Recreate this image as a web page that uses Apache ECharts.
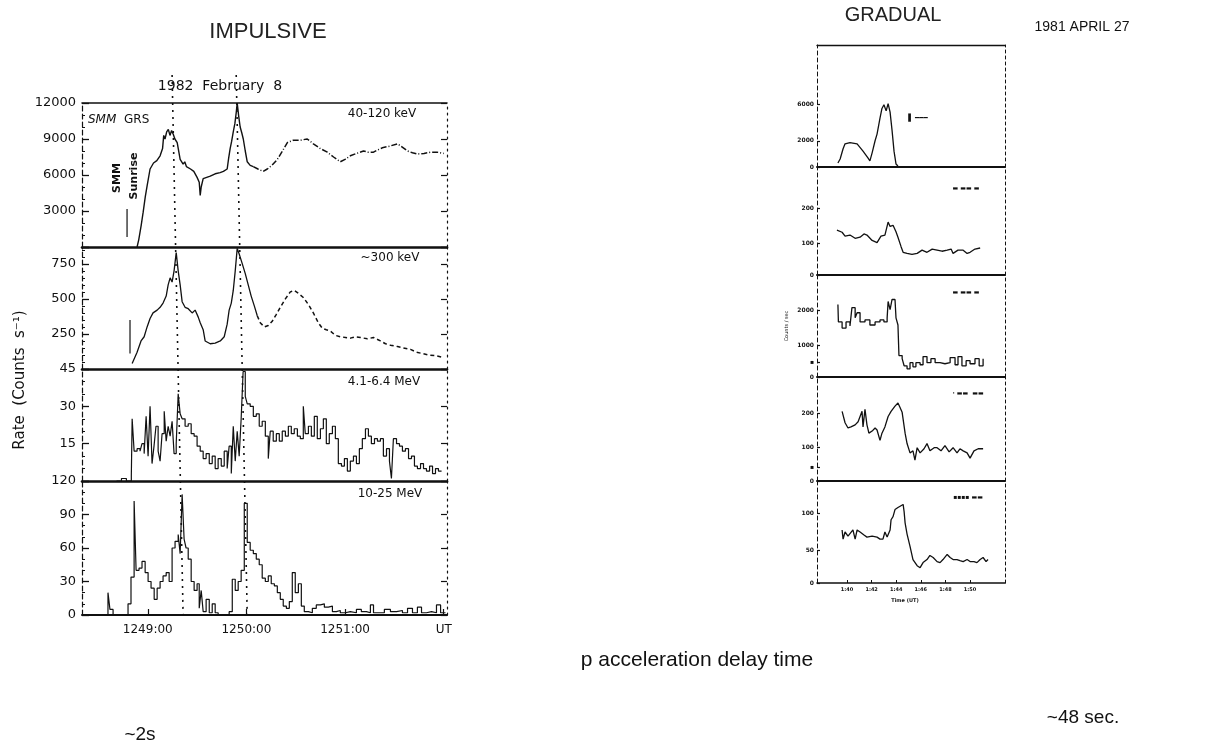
<!DOCTYPE html>
<html><head><meta charset="utf-8">
<script src="https://cdn.jsdelivr.net/npm/echarts/dist/echarts.min.js"></script>
<style>html,body{margin:0;padding:0;background:#fff}#c{width:1226px;height:748px}</style>
</head><body><div id="c"></div>
<script>
// ---------- IMPULSIVE (1982 February 8) : time in seconds after 12:48:00 UT ----------
const X_TICKS = [60, 120, 180, 240];
const X_TICK_LABELS = ['1249:00', '1250:00', '1251:00', 'UT'];

// 40-120 keV (counts/s) – solid part, then dash-dot part
const P1_SOLID = [[53.5,0],[54.5,600],[56,1800],[57.2,2900],[58.5,4200],[59.6,5100],[61.4,6500],[63.5,7000],[65.5,7200],[67.5,7600],[69,8200],[69.7,9300],[70.5,9000],[71.5,9600],[72.5,9800],[73.5,9300],[74.5,9700],[75.5,9400],[76.5,9000],[77.9,8700],[79.7,7300],[81.5,6900],[82.5,7100],[83.5,6700],[84.5,6800],[86,6500],[88,6300],[90,5800],[91.3,5400],[91.9,4300],[92.5,5000],[93.7,5700],[94.9,5800],[98,5900],[101,6100],[104,6200],[106,6300],[108.3,6500],[109.2,7400],[110.1,8200],[111,8800],[112,9600],[113,10300],[113.8,11200],[114.4,12000],[115.3,10900],[116.2,10000],[117.2,9500],[118.1,9000],[119.3,8000],[120.5,7100],[122.3,6800],[124.2,6700]];
const P1_DASHED = [[124.2,6700],[127,6500],[130.2,6300],[132.7,6500],[135.5,6800],[138.8,7300],[141.5,7900],[144.9,8700],[148.5,8900],[152.8,8900],[157,9000],[160.7,8600],[165,8200],[169.2,7900],[173,7500],[177.1,7100],[180,7300],[183.2,7600],[187,7800],[191.2,8000],[194,7900],[197.3,7900],[200,8100],[203.3,8300],[207,8400],[211.9,8600],[215,8300],[218,8000],[221,7850],[224,7750],[228,7800],[232,7900],[236,7900],[240,7800]];

// ~300 keV
const P2_SOLID = [[50.5,40],[53.5,120],[55.9,200],[57.8,230],[59.6,300],[61.4,360],[63.2,400],[65.7,420],[67.5,440],[69.3,470],[71.2,520],[72.4,600],[73.6,650],[74.8,620],[76,700],[77.3,830],[78.5,700],[79.7,600],[80.9,480],[82.7,440],[84.6,430],[87,400],[88.8,420],[90.7,370],[91.9,330],[93.7,280],[94.9,200],[98,180],[101,185],[104.1,200],[106.5,230],[108.3,320],[109.5,420],[110.8,470],[112,560],[113.2,700],[114.4,860],[115.6,820],[117.5,750],[119.3,680],[121.1,600],[122.9,520],[124.8,450],[126.6,380]];
const P2_DOTTED = [[126.6,380],[128.4,330],[130.9,300],[133.3,310],[135.7,340],[138.2,390],[140.6,440],[143.7,500],[146.7,550],[149.1,560],[151.6,540],[154.6,510],[157.7,460],[160.7,400],[163.7,330],[166.2,290],[168.6,280],[171.1,270],[174.1,240],[177.1,230],[180.2,225],[183.2,220],[186.3,230],[189.3,225],[193.6,215],[197.3,225],[201.5,200],[204.6,180],[207.6,170],[211.9,160],[215.5,150],[219.8,140],[223.4,120],[227.1,110],[230.7,100],[235,95],[238.7,85]];

// 4.1-6.4 MeV
const P3 = [[41,0],[44,1],[47,0],[50,2],[50.5,25],[51.7,12],[53.5,13],[55.3,12],[56.5,15],[57.8,11],[59,26],[60.2,10],[61.4,30],[62.6,7],[63.8,14],[65,22],[66.3,12],[67.5,8],[68.7,19],[70,28],[71.2,16],[72.4,22],[73.6,18],[74.8,24],[76,11],[77.3,15],[78.5,35],[79.7,27],[80.9,25],[82.7,22],[84.6,23],[86.4,19],[88.2,18],[90,14],[91.9,12],[93.7,9],[95.5,11],[97.4,7],[99.2,10],[101,5],[102.8,9],[104.7,6],[106.5,12],[108.3,5],[109.5,14],[110.8,3],[112,22],[113.2,8],[114.4,20],[115.6,10],[116.8,25],[118,44],[119.3,34],[120.5,31],[122.3,30],[124.2,26],[126,27],[127.8,22],[129.6,24],[131.5,18],[133.3,9],[134.5,20],[136.3,16],[138.2,19],[140,16],[141.8,20],[143.7,18],[145.5,22],[147.3,19],[149.1,21],[151,18],[152.8,17],[154.6,30],[155.8,19],[157.7,22],[159.5,18],[161.3,26],[163.1,17],[165,21],[166.8,25],[168.6,15],[170.4,19],[172.3,22],[174.1,17],[175.9,7],[177.8,6],[179.6,9],[181.4,4],[183.2,8],[185.1,10],[186.9,7],[188.7,13],[190.5,17],[192.4,21],[194.2,18],[196,15],[197.9,17],[199.7,16],[201.5,17],[203.3,10],[205.2,13],[207,8],[208.2,1],[209.4,17],[211.3,15],[213.1,14],[214.9,12],[216.7,13],[218.6,9],[220.4,10],[222.2,6],[224,5],[225.9,7],[227.7,5],[229.5,4],[231.4,6],[233.2,3],[235,5],[236.8,4],[238.7,4]];

// 10-25 MeV
const P4 = [[23.7,0],[34,0],[35.8,20],[37,5],[38.9,0],[46.2,0],[48,10],[49.8,34],[51.7,102],[52.9,40],[54.7,42],[56.5,48],[58.4,38],[60.2,30],[62,24],[63.9,14],[65.7,24],[67.5,30],[69.3,35],[71.2,38],[73,30],[74.8,60],[76.6,66],[78.5,72],[79.7,55],[80.9,108],[82.1,68],[83.3,60],[84.6,50],[86.4,30],[88.2,22],[90,28],[91.3,6],[92.5,22],[93.7,3],[95.5,14],[97.4,2],[99.2,10],[101,2],[102.8,0],[105.3,0],[107.7,0],[109.5,3],[111.4,32],[113.2,22],[115,30],[116.8,40],[118.7,100],[120.5,65],[122.3,58],[124.2,55],[126,50],[127.8,45],[129.6,33],[131.5,30],[133.3,35],[135.1,28],[137,26],[138.8,20],[140.6,14],[142.4,8],[144.3,6],[146.1,12],[147.9,38],[149.7,20],[151.6,28],[153.4,8],[155.2,3],[157.7,2],[160.1,6],[162.5,9],[165,10],[167.4,7],[169.8,8],[172.3,3],[174.7,4],[177.1,2],[180.2,3],[183.2,2],[186.9,5],[189.9,3],[193,2],[195.4,9],[197.3,2],[200.3,2],[203.9,5],[207.6,3],[211.3,4],[214.9,2],[218,6],[221,2],[224,7],[226.5,2],[229.5,3],[232.6,2],[235.6,9],[238.1,2],[241.1,2]];

// "SMM sunrise" markers
const SUNRISE_P1 = [[47.4,830],[47.4,3170]];
const SUNRISE_P2 = [[49.2,110],[49.2,350]];
// dotted delay lines (time at top of figure, time at bottom)
const DELAY_A = [[74.8,1],[81.5,0]];
const DELAY_B = [[113.8,1],[120.5,0]];

// ---------- GRADUAL (1981 April 27) : relative units, x in ticks ----------
const R_X_TICKS = [0,1,2,3,4,5];
const R_X_LABELS = ['1:40','1:42','1:44','1:46','1:48','1:50'];
const R_Y_TICKS = [[0,21.5,51.2],[0,29.6,62],[0,14.7,31.4,65.7],[0,13.5,32.7,65.4],[0,32.4,68.6]];
const R_Y_LABELS = [['0','2000','6000'],['0','100','200'],['0','\u25aa','1000','2000'],['0','\u25aa','100','200'],['0','50','100']];
const R1 = [[-0.37,3.3],[-0.28,6.6],[-0.16,15],[-0.08,19],[0.12,20],[0.41,19],[0.65,13],[0.85,7.4],[0.93,5],[1.02,11.6],[1.14,21.5],[1.22,27],[1.34,40],[1.42,48],[1.50,51],[1.59,46],[1.67,52],[1.75,45],[1.83,30],[1.91,13],[1.99,2.5],[2.07,0.8]];
const R2 = [[-0.41,41.5],[-0.20,39.6],[-0.08,36],[0.12,37],[0.33,34],[0.53,35],[0.69,38],[0.81,37],[1.02,32],[1.22,30],[1.38,36],[1.54,37],[1.67,49],[1.75,45],[1.87,46],[1.99,40],[2.07,35],[2.20,26],[2.28,21],[2.44,20],[2.64,19],[2.85,20],[3.05,23],[3.25,21],[3.46,24],[3.66,23],[3.86,22],[4.07,23],[4.23,24],[4.31,20],[4.51,23],[4.72,23],[4.88,20],[5.00,21],[5.20,24],[5.41,25]];
const R3 = [[-0.37,71],[-0.35,54],[-0.20,48],[-0.04,54],[0.12,50],[0.20,68],[0.33,58],[0.41,63],[0.53,54],[0.73,56],[0.93,51],[1.14,54],[1.34,56],[1.50,54],[1.63,58],[1.67,74],[1.75,66],[1.83,76],[1.95,76],[1.99,58],[2.07,51],[2.11,21],[2.24,18],[2.32,11],[2.44,8],[2.56,14],[2.68,10],[2.80,14],[2.97,12],[3.09,20],[3.25,14],[3.41,18],[3.58,14],[3.78,13],[3.98,14],[4.19,19],[4.39,12],[4.51,20],[4.67,11],[4.84,16],[5.00,13],[5.20,18],[5.37,11],[5.53,18]];
const R4 = [[-0.20,67],[-0.08,56],[0.04,51],[0.16,52],[0.33,54],[0.45,57],[0.61,67],[0.65,52],[0.73,69],[0.81,54],[0.89,46],[1.02,48],[1.14,51],[1.22,49],[1.34,39],[1.42,46],[1.54,52],[1.67,62],[1.79,67],[1.95,72],[2.07,75],[2.15,71],[2.24,66],[2.36,46],[2.44,36],[2.56,27],[2.68,29],[2.76,20],[2.85,32],[2.97,27],[3.13,31],[3.25,36],[3.37,29],[3.54,32],[3.66,32],[3.82,29],[3.98,34],[4.15,28],[4.31,32],[4.47,27],[4.59,31],[4.72,29],[4.88,27],[5.00,22],[5.16,29],[5.33,31],[5.53,31]];
const R5 = [[-0.20,52],[-0.16,43],[-0.08,50],[0.04,46],[0.12,45],[0.24,52],[0.33,43],[0.41,52],[0.53,50],[0.69,47],[0.81,45],[1.02,46],[1.22,45],[1.34,43],[1.46,43],[1.54,50],[1.63,45],[1.75,52],[1.79,62],[1.87,65],[1.95,72],[2.07,74],[2.15,75],[2.28,77],[2.32,70],[2.36,59],[2.44,48],[2.56,36],[2.68,23],[2.85,17],[2.97,15],[3.09,20],[3.25,23],[3.37,27],[3.50,25],[3.66,21],[3.78,20],[3.90,23],[4.07,28],[4.19,25],[4.31,23],[4.47,23],[4.59,22],[4.72,21],[4.88,23],[5.00,21],[5.16,21],[5.28,20],[5.41,23],[5.53,25],[5.65,21],[5.73,23]];

const INK = '#111';
const FONT = '"DejaVu Sans", sans-serif';
const SANS = '"Liberation Sans", Arial, sans-serif';

const chart = echarts.init(document.getElementById('c'), null, {renderer:'canvas'});

// ---- grids ----
const grids = [
  {left:82, right:779, top:103, height:144},   // L1
  {left:82, right:779, top:247, height:122},   // L2
  {left:82, right:779, top:369, height:112},   // L3
  {left:82, right:779, top:481, height:134},   // L4
  {left:82, right:779, top:75,  height:540},   // overlay
  {left:817, right:221, top:45,  height:122},  // R1
  {left:817, right:221, top:167, height:108},  // R2
  {left:817, right:221, top:275, height:102},  // R3
  {left:817, right:221, top:377, height:104},  // R4
  {left:817, right:221, top:481, height:102}   // R5
];

const xAxis = [], yAxis = [], series = [];
const hidden = {show:false};

// left panels
const Y_CFG = [
  {max:12000, interval:3000, minor:3},
  {max:870, interval:250, minor:5},
  {max:45, interval:15, minor:3},
  {max:120, interval:30, minor:3}
];
for (let i = 0; i < 4; i++) {
  const last = i === 3;
  xAxis.push({
    type:'value', gridIndex:i, min:20, max:242, position:'bottom',
    axisLine:{show:true, onZero:false, lineStyle:{color:INK, width: last ? 2 : 2.6}},
    splitLine:hidden,
    axisTick: last ? {show:true, inside:true, length:6, customValues:X_TICKS, lineStyle:{color:INK, width:1.2}} : hidden,
    axisLabel: last ? {show:true, customValues:X_TICKS, margin:9, color:INK, fontFamily:FONT, fontSize:12,
      formatter:(v)=>X_TICK_LABELS[X_TICKS.indexOf(v)] || ''} : hidden
  });
  const c = Y_CFG[i];
  yAxis.push({
    type:'value', gridIndex:i, min:0, max:c.max, interval:c.interval, position:'left',
    axisLine:{show:true, onZero:false, lineStyle:{color:INK, width:1.2, type:[5,3]}},
    axisTick:{show:true, inside:true, length:7, lineStyle:{color:INK, width:1.3}},
    minorTick:{show:true, splitNumber:c.minor, length:3, lineStyle:{color:INK}},
    splitLine:hidden, minorSplitLine:hidden,
    axisLabel:{show:true, color:INK, fontFamily:FONT, fontSize:13, margin:6,
      showMinLabel: last, showMaxLabel: i !== 1, formatter:(v)=>String(v)},
  });
  yAxis.push({
    type:'value', gridIndex:i, min:0, max:c.max, interval:c.interval, position:'right',
    axisLine:{show:true, onZero:false, lineStyle:{color:INK, width:1.2, type:[2,4]}},
    axisTick:{show:true, inside:true, length:6, lineStyle:{color:INK, width:1.2}},
    splitLine:hidden, axisLabel:hidden
  });
}
// top border of panel 1 (x-axis index 4)
xAxis.push({type:'value', gridIndex:0, min:20, max:242, position:'top',
  axisLine:{show:true, onZero:false, lineStyle:{color:INK, width:1.6}}, axisTick:hidden, axisLabel:hidden, splitLine:hidden});
// overlay (x index 5, y index 8)
xAxis.push({type:'value', gridIndex:4, min:20, max:242, show:false});
yAxis.push({type:'value', gridIndex:4, min:0, max:1, show:false});

// right panels: x indices 6..10, y indices 9..18 (left/right pairs)
for (let k = 0; k < 5; k++) {
  const g = 5 + k, last = k === 4;
  xAxis.push({
    type:'value', gridIndex:g, min:-1.22, max:6.42, position:'bottom',
    axisLine:{show:true, onZero:false, lineStyle:{color:INK, width: last ? 1.6 : 2}},
    splitLine:hidden,
    axisTick: last ? {show:true, inside:true, length:3, customValues:R_X_TICKS, lineStyle:{color:INK}} : hidden,
    axisLabel: last ? {show:true, customValues:R_X_TICKS, margin:4, color:INK, fontFamily:FONT, fontSize:5, fontWeight:'bold',
      formatter:(v)=>R_X_LABELS[R_X_TICKS.indexOf(v)] || ''} : hidden
  });
  yAxis.push({
    type:'value', gridIndex:g, min:0, max:100, position:'left',
    axisLine:{show:true, onZero:false, lineStyle:{color:INK, width:1, type:[4,3]}},
    axisTick:{show:true, inside:true, length:3, customValues:R_Y_TICKS[k], lineStyle:{color:INK, width:1.2}},
    axisLabel:{show:true, customValues:R_Y_TICKS[k], color:INK, fontFamily:FONT, fontSize:6, fontWeight:'bold', margin:3,
      formatter:(v)=>R_Y_LABELS[k][R_Y_TICKS[k].indexOf(v)] || ''},
    splitLine:hidden,
    name: k === 2 ? 'Counts / sec' : '', nameLocation:'middle', nameGap:28, nameRotate:90,
    nameTextStyle:{fontSize:5, color:INK, fontFamily:FONT}
  });
  yAxis.push({
    type:'value', gridIndex:g, min:0, max:100, position:'right',
    axisLine:{show:true, onZero:false, lineStyle:{color:INK, width:1, type:[3,3]}},
    axisTick:hidden, axisLabel:hidden, splitLine:hidden
  });
}
// top border of R1 (x index 11)
xAxis.push({type:'value', gridIndex:5, min:-1.22, max:6.42, position:'top',
  axisLine:{show:true, onZero:false, lineStyle:{color:INK, width:1.3}}, axisTick:hidden, axisLabel:hidden, splitLine:hidden});

function line(xi, yi, data, style, extra) {
  return Object.assign({type:'line', xAxisIndex:xi, yAxisIndex:yi, data:data, symbol:'none',
    animation:false, silent:true, lineStyle:Object.assign({color:INK, width:1.3}, style)}, extra || {});
}
series.push(line(0, 0, P1_SOLID, {width:1.4}));
series.push(line(0, 0, P1_DASHED, {width:1.5, type:[6,2,1,2]}));
series.push(line(0, 0, SUNRISE_P1, {width:1.2}));
series.push(line(1, 2, P2_SOLID, {width:1.3}));
series.push(line(1, 2, P2_DOTTED, {width:1.5, type:[4,3]}));
series.push(line(1, 2, SUNRISE_P2, {width:1.2}));
series.push(line(2, 4, P3, {width:1.2}, {step:'end'}));
series.push(line(3, 6, P4, {width:1.2}, {step:'end'}));
series.push(line(5, 8, DELAY_A, {width:1.6, type:[2,5]}));
series.push(line(5, 8, DELAY_B, {width:1.6, type:[2,5]}));
const RDATA = [R1, R2, R3, R4, R5];
for (let k = 0; k < 5; k++) {
  series.push(line(6 + k, 9 + 2*k, RDATA[k], {width:1.3}, k === 2 ? {step:'end'} : {}));
}

function txt(x, y, s, size, opts) {
  return Object.assign({type:'text', x:x, y:y, silent:true,
    style:Object.assign({text:s, fill:INK, font: size + 'px ' + SANS, align:'center', verticalAlign:'middle'}, (opts && opts.style) || {})},
    opts && opts.rotation ? {rotation:opts.rotation} : {});
}
const graphic = [
  txt(268, 32, 'IMPULSIVE', 22, {style:{fill:'#222'}}),
  txt(893, 15, 'GRADUAL', 20, {style:{fill:'#222'}}),
  txt(220, 86, '1982  February  8', 14, {style:{font:'14px ' + FONT}}),
  txt(1082, 27, '1981 APRIL 27', 14),
  txt(697, 660, 'p acceleration delay time', 21),
  txt(140, 735, '~2s', 19),
  txt(1083, 718, '~48 sec.', 19),
  txt(88, 120, 'SMM', 12, {style:{align:'left', font:'italic 12px ' + FONT}}),
  txt(124, 120, 'GRS', 12, {style:{align:'left', font:'12px ' + FONT}}),
  txt(382, 114, '40-120 keV', 12, {style:{font:'12px ' + FONT}}),
  txt(390, 258, '~300 keV', 12, {style:{font:'12px ' + FONT}}),
  txt(384, 382, '4.1-6.4 MeV', 12, {style:{font:'12px ' + FONT}}),
  txt(390, 494, '10-25 MeV', 12, {style:{font:'12px ' + FONT}}),
  txt(117, 178, 'SMM', 11, {rotation:Math.PI/2, style:{font:'bold 11px ' + FONT}}),
  txt(134, 176, 'Sunrise', 11, {rotation:Math.PI/2, style:{font:'bold 11px ' + FONT}}),
  txt(20, 380, 'Rate  (Counts  s\u207b\u00b9)', 15, {rotation:Math.PI/2, style:{font:'15px ' + FONT}}),
  txt(918, 118, '\u258c\u2009\u2501\u2501\u2501', 7, {style:{font:'bold 7px ' + FONT}}),
  txt(966, 188, '\u25ac \u25ac\u25ac \u25ac', 6, {style:{font:'bold 6px ' + FONT}}),
  txt(966, 292, '\u25ac \u25ac\u25ac \u25ac', 6, {style:{font:'bold 6px ' + FONT}}),
  txt(968, 393, '\u00b7 \u25ac\u25ac  \u25ac\u25ac', 6, {style:{font:'bold 6px ' + FONT}}),
  txt(968, 497, '\u25aa\u25aa\u25aa\u25aa \u25ac\u25ac', 6, {style:{font:'bold 6px ' + FONT}}),
  txt(905, 601, 'Time (UT)', 5, {style:{font:'bold 5px ' + FONT}})
];

chart.setOption({
  animation:false,
  backgroundColor:'#fff',
  grid:grids, xAxis:xAxis, yAxis:yAxis, series:series, graphic:graphic
});
</script></body></html>
